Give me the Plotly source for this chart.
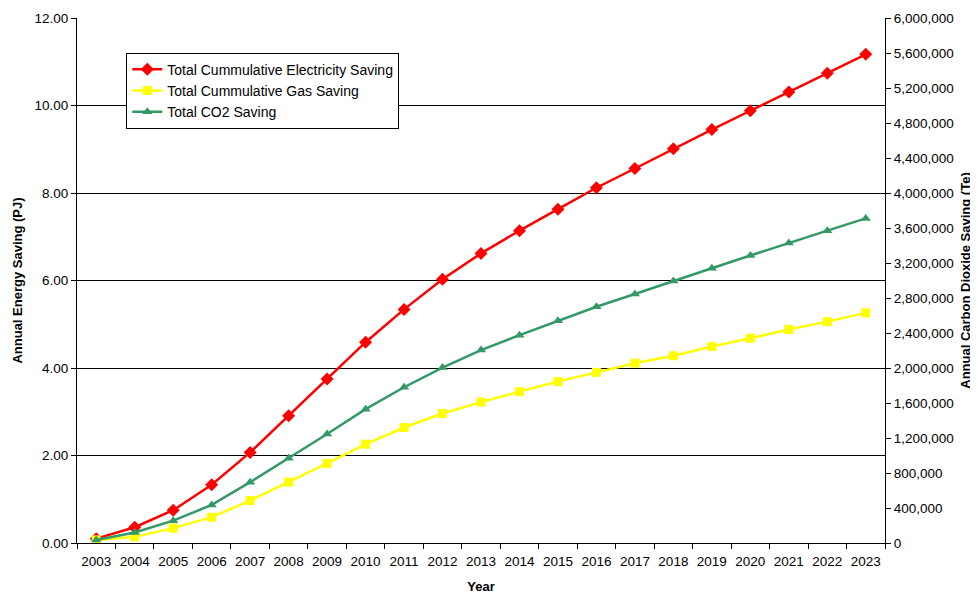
import plotly.graph_objects as go

years = [str(y) for y in range(2003, 2024)]
electricity_pj = [0.10, 0.36, 0.75, 1.33, 2.07, 2.91, 3.75, 4.59, 5.34, 6.03, 6.62,
                  7.14, 7.63, 8.12, 8.56, 9.01, 9.45, 9.88, 10.31, 10.74, 11.17]
gas_pj = [0.07, 0.14, 0.34, 0.59, 0.97, 1.39, 1.82, 2.26, 2.64, 2.96, 3.22,
          3.46, 3.69, 3.90, 4.11, 4.28, 4.49, 4.68, 4.88, 5.06, 5.26]
co2_te = [35000, 120000, 255000, 435000, 695000, 970000, 1245000, 1530000, 1780000,
          2005000, 2205000, 2375000, 2540000, 2700000, 2845000, 2995000, 3140000,
          3285000, 3430000, 3570000, 3710000]

font_family = "Liberation Sans, Arial, sans-serif"

fig = go.Figure()
fig.add_trace(go.Scatter(x=years, y=electricity_pj, name="Total Cummulative Electricity Saving",
                         mode="lines+markers", line=dict(color="#FF0000", width=2.5),
                         marker=dict(symbol="diamond", size=10, color="#FF0000")))
fig.add_trace(go.Scatter(x=years, y=gas_pj, name="Total Cummulative Gas Saving",
                         mode="lines+markers", line=dict(color="#FFFF00", width=2.5),
                         marker=dict(symbol="square", size=9, color="#FFFF00")))
fig.add_trace(go.Scatter(x=years, y=co2_te, name="Total CO2 Saving", yaxis="y2",
                         mode="lines+markers", line=dict(color="#339966", width=2.5),
                         marker=dict(symbol="triangle-up", size=9, color="#339966")))

fig.update_layout(
    width=970, height=587,
    margin=dict(l=69, r=93, t=10, b=52),
    paper_bgcolor="white", plot_bgcolor="white",
    font=dict(family=font_family, size=13.5, color="#000000"),
    showlegend=True,
    legend=dict(x=0.061, y=0.934, xanchor="left", yanchor="top",
                bordercolor="#000000", borderwidth=1, bgcolor="white",
                font=dict(size=14), tracegroupgap=0, itemwidth=30),
    xaxis=dict(type="category", showgrid=False, showline=True, linecolor="#000000",
               linewidth=1, ticks="outside", tickson="boundaries", ticklen=5,
               tickcolor="#000000", range=[-0.5, 20.5], tickangle=0, automargin=False,
               ticklabelstandoff=6,
               title=dict(text="<b>Year</b>", font=dict(size=13), standoff=13)),
    yaxis=dict(range=[0, 12], dtick=2, tickformat=".2f", showgrid=True,
               gridcolor="#000000", gridwidth=1, showline=True, linecolor="#000000",
               linewidth=1, ticks="outside", ticklen=5, tickcolor="#000000",
               zeroline=False, automargin=False,
               title=dict(text="<b>Annual Energy Saving (PJ)</b>", font=dict(size=13), standoff=8)),
    yaxis2=dict(range=[0, 6000000], dtick=400000, tickformat=",d", overlaying="y",
                side="right", showgrid=False, showline=True, linecolor="#000000",
                linewidth=1, ticks="outside", ticklen=5, tickcolor="#000000",
                zeroline=False, automargin=False,
                title=dict(text="<b>Annual Carbon Dioxide Saving (Te)</b>", font=dict(size=13), standoff=8)),
)

fig.write_html("out.html")
